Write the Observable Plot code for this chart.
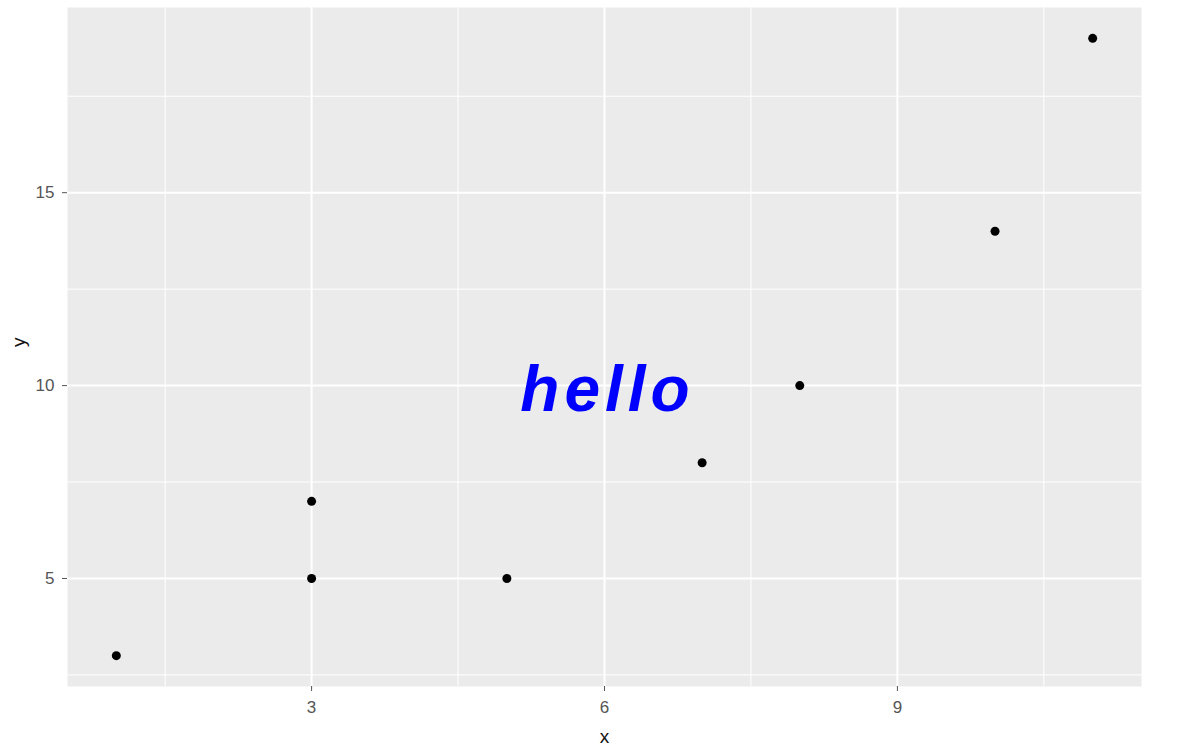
<!DOCTYPE html>
<html>
<head>
<meta charset="utf-8">
<script src="https://cdn.jsdelivr.net/npm/d3@7"></script>
<script src="https://cdn.jsdelivr.net/npm/@observablehq/plot@0.6"></script>
<style>
  html, body { margin: 0; padding: 0; background: #ffffff; }
  #chart { width: 1179px; height: 746px; }
</style>
</head>
<body>
<div id="chart"></div>
<script>
// data
const xs = [1, 3, 3, 5, 7, 8, 10, 11];
const ys = [3, 5, 7, 5, 8, 10, 14, 19];
const xTicks = [3, 6, 9];
const yTicks = [5, 10, 15];
const xMinor = [1.5, 4.5, 7.5, 10.5];
const yMinor = [2.5, 7.5, 12.5, 17.5];
const labelX = [6];
const labelY = [10];
const labelText = ["hello"];

const points = xs.map((x, i) => ({x, y: ys[i]}));

const chart = Plot.plot({
  width: 1179,
  height: 746,
  marginLeft: 67,
  marginRight: 38,
  marginTop: 7,
  marginBottom: 60,
  style: {fontFamily: "'Liberation Sans', Arial, sans-serif", background: "#ffffff"},
  x: {domain: [0.5, 11.5]},
  y: {domain: [2.2, 19.8]},
  marks: [
    Plot.frame({fill: "#ebebeb", stroke: null}),
    Plot.ruleX(xMinor, {stroke: "#ffffff", strokeWidth: 1}),
    Plot.ruleY(yMinor, {stroke: "#ffffff", strokeWidth: 1}),
    Plot.ruleX(xTicks, {stroke: "#ffffff", strokeWidth: 2}),
    Plot.ruleY(yTicks, {stroke: "#ffffff", strokeWidth: 2}),
    Plot.axisX({ticks: xTicks, tickSize: 5, tickPadding: 9, fontSize: 17, color: "#555555", label: null}),
    Plot.axisY({ticks: yTicks, tickSize: 5, tickPadding: 8, fontSize: 17, color: "#555555", label: null}),
    Plot.dot(points, {x: "x", y: "y", r: 4.5, fill: "#000000", stroke: null}),
    Plot.text(labelText, {
      x: (d, i) => labelX[i], y: (d, i) => labelY[i], text: d => d,
      fill: "#0000ff", fontSize: 64, fontWeight: "bold", fontStyle: "italic",
      textAnchor: "middle", lineAnchor: "middle", dx: 3, dy: 5
    }),
    Plot.text(["x"], {frameAnchor: "bottom", dy: 56, text: d => d, fontSize: 19, fill: "#111111"}),
    Plot.text(["y"], {frameAnchor: "left", dx: -49, text: d => d, fontSize: 19, fill: "#111111", rotate: -90})
  ]
});

d3.select(chart).selectAll("text").filter(function() { return this.textContent === "hello"; })
  .attr("letter-spacing", "5px");

document.getElementById("chart").appendChild(chart);
</script>
</body>
</html>
